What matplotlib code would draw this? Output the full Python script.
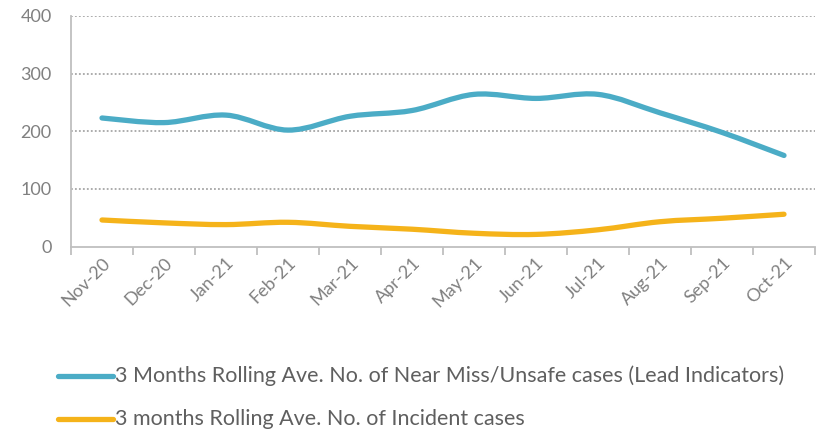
import matplotlib
matplotlib.use("Agg")
import matplotlib.pyplot as plt
from matplotlib.path import Path
from matplotlib.patches import PathPatch
from matplotlib.lines import Line2D
import numpy as np

months = ["Nov-20", "Dec-20", "Jan-21", "Feb-21", "Mar-21", "Apr-21",
          "May-21", "Jun-21", "Jul-21", "Aug-21", "Sep-21", "Oct-21"]
near_miss = [223, 215, 228, 202, 226, 236, 264, 257, 264, 232, 198, 158]
incidents = [46, 41, 38, 42, 35, 30, 23, 21, 29, 43, 49, 56]
yticks = [0, 100, 200, 300, 400]
label_near = "3 Months Rolling Ave. No. of Near Miss/Unsafe cases (Lead Indicators)"
label_inc = "3 months Rolling Ave. No. of Incident cases"

BLUE = "#4BACC6"
ORANGE = "#F5B31A"
TXT = "#808080"
AX = "#BFBFBF"

plt.rcParams['font.family'] = ['Lato', 'DejaVu Sans']

fig = plt.figure(figsize=(8.21, 4.33), dpi=100)
ax = fig.add_axes([71/821, 1-246.5/433, (815-71)/821, (246.5-16)/433])


def smooth_path(xs, ys):
    pts = np.column_stack([xs, ys]).astype(float)
    n = len(pts)
    verts = [pts[0]]
    codes = [Path.MOVETO]
    for i in range(n - 1):
        p0 = pts[i - 1] if i > 0 else pts[i]
        p1 = pts[i]
        p2 = pts[i + 1]
        p3 = pts[i + 2] if i + 2 < n else pts[i + 1]
        c1 = p1 + (p2 - p0) / 6.0
        c2 = p2 - (p3 - p1) / 6.0
        verts += [c1, c2, p2]
        codes += [Path.CURVE4] * 3
    return Path(verts, codes)


x = np.arange(len(months))
for vals, col in [(near_miss, BLUE), (incidents, ORANGE)]:
    patch = PathPatch(smooth_path(x, vals), facecolor='none', edgecolor=col,
                      lw=3.8, capstyle='round', joinstyle='round')
    ax.add_patch(patch)

ax.set_xlim(-0.5, len(months) - 0.5)
ax.set_ylim(0, 400)
ax.set_yticks(yticks)
ax.set_yticklabels([str(v) for v in yticks])
for v in yticks[1:]:
    ax.axhline(v, color="#A6A6A6", lw=1.3, linestyle=(0, (1, 1.2)), zorder=0)

ax.set_xticks(x)
ax.set_xticklabels(months, rotation=45, ha='right', va='top',
                   rotation_mode='anchor', color=TXT, fontsize=13)
ax.tick_params(axis='x', length=0, pad=6)
ax.set_xticks(np.arange(-0.5, len(months)), minor=True)
ax.tick_params(axis='x', which='minor', length=6, width=1.3, color=AX)
ax.tick_params(axis='y', length=0, pad=14, labelcolor=TXT, labelsize=13)

for s in ['top', 'right']:
    ax.spines[s].set_visible(False)
for s in ['left', 'bottom']:
    ax.spines[s].set_color(AX)
    ax.spines[s].set_linewidth(1.3)

# legend
W, H = 821, 433
for yy, col, lab in [(376, BLUE, label_near), (419, ORANGE, label_inc)]:
    fig.add_artist(Line2D([58/W, 113/W], [1-yy/H, 1-yy/H], color=col, lw=3.8,
                          solid_capstyle='round', transform=fig.transFigure))
    fig.text(115/W, 1-yy/H, lab, color="#5F5F5F", fontsize=15.5, va='center', ha='left')

fig.savefig("out.png", dpi=100, facecolor='white')
